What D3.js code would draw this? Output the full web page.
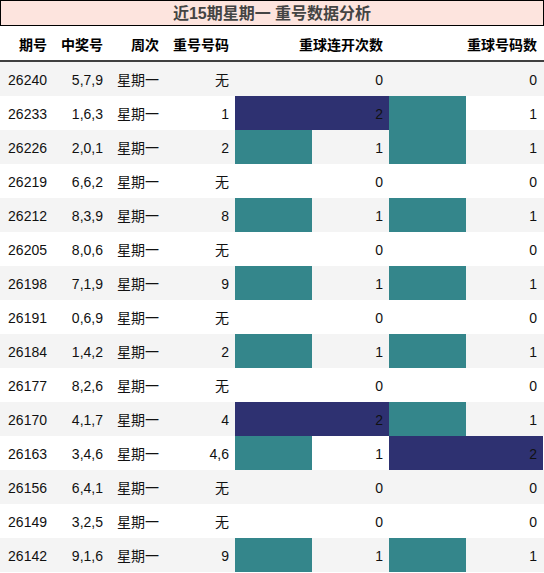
<!DOCTYPE html>
<html><head><meta charset="utf-8">
<script src="https://cdn.jsdelivr.net/npm/d3@7"></script>
<style>body{margin:0;background:#fff}</style>
</head><body>
<script>
var qihao = ["26240","26233","26226","26219","26212","26205","26198","26191","26184","26177","26170","26163","26156","26149","26142"];
var zhongjiang = ["5,7,9","1,6,3","2,0,1","6,6,2","8,3,9","8,0,6","7,1,9","0,6,9","1,4,2","8,2,6","4,1,7","3,4,6","6,4,1","3,2,5","9,1,6"];
var chonghao = ["无","1","2","无","8","无","9","无","2","无","4","4,6","无","无","9"];
var lianKai = [0,2,1,0,1,0,1,0,1,0,2,1,0,0,1];
var haomaShu = [0,1,1,0,1,0,1,0,1,0,1,2,0,0,1];
var headers = ["期号","中奖号","周次","重号号码","重球连开次数","重球号码数"];

var W = 544, rowH = 34, top0 = 62;
var svg = d3.select("body").append("svg").attr("width", W).attr("height", 573)
  .style("font-family", "'Liberation Sans','Noto Sans CJK SC',sans-serif");

// title
svg.append("rect").attr("x", 0.5).attr("y", 0.5).attr("width", W - 1).attr("height", 25)
  .attr("fill", "#fde4de").attr("stroke", "#000");
svg.append("text").attr("x", W / 2).attr("y", 19).attr("text-anchor", "middle")
  .attr("font-size", 16).attr("font-weight", "bold").attr("fill", "#444").text("近15期星期一 重号数据分析");

var colRight = [47, 103, 159, 229, 383, 537];
svg.selectAll("text.h").data(headers).enter().append("text").attr("class", "h")
  .attr("x", function(d, i) { return colRight[i]; }).attr("y", 50).attr("text-anchor", "end")
  .attr("font-size", 14).attr("font-weight", "bold").text(function(d) { return d; });
svg.append("line").attr("x1", 0).attr("x2", W).attr("y1", 61).attr("y2", 61).attr("stroke", "#000").attr("stroke-width", 1.5);

var y = d3.scaleBand().domain(d3.range(qihao.length)).range([top0, top0 + rowH * qihao.length]);
var w = d3.scaleLinear().domain([0, 2]).range([0, 154]);
var color = function(v) { return v >= 2 ? "#2e3171" : "#34868b"; };

var rows = svg.selectAll("g.r").data(qihao).enter().append("g").attr("class", "r")
  .attr("transform", function(d, i) { return "translate(0," + y(i) + ")"; });
rows.append("rect").attr("width", W).attr("height", rowH)
  .attr("fill", function(d, i) { return i % 2 === 0 ? "#f4f4f4" : "#fff"; });
rows.append("rect").attr("x", 235).attr("height", rowH)
  .attr("width", function(d, i) { return w(lianKai[i]); })
  .attr("fill", function(d, i) { return color(lianKai[i]); });
rows.append("rect").attr("x", 389).attr("height", rowH)
  .attr("width", function(d, i) { return w(haomaShu[i]); })
  .attr("fill", function(d, i) { return color(haomaShu[i]); });

var cols = [qihao, zhongjiang, qihao.map(function() { return "星期一"; }), chonghao, lianKai, haomaShu];
cols.forEach(function(arr, c) {
  rows.append("text").attr("x", colRight[c]).attr("y", 23).attr("text-anchor", "end")
    .attr("font-size", 14).attr("fill", "#111")
    .text(function(d, i) { return arr[i]; });
});
</script>
</body></html>
